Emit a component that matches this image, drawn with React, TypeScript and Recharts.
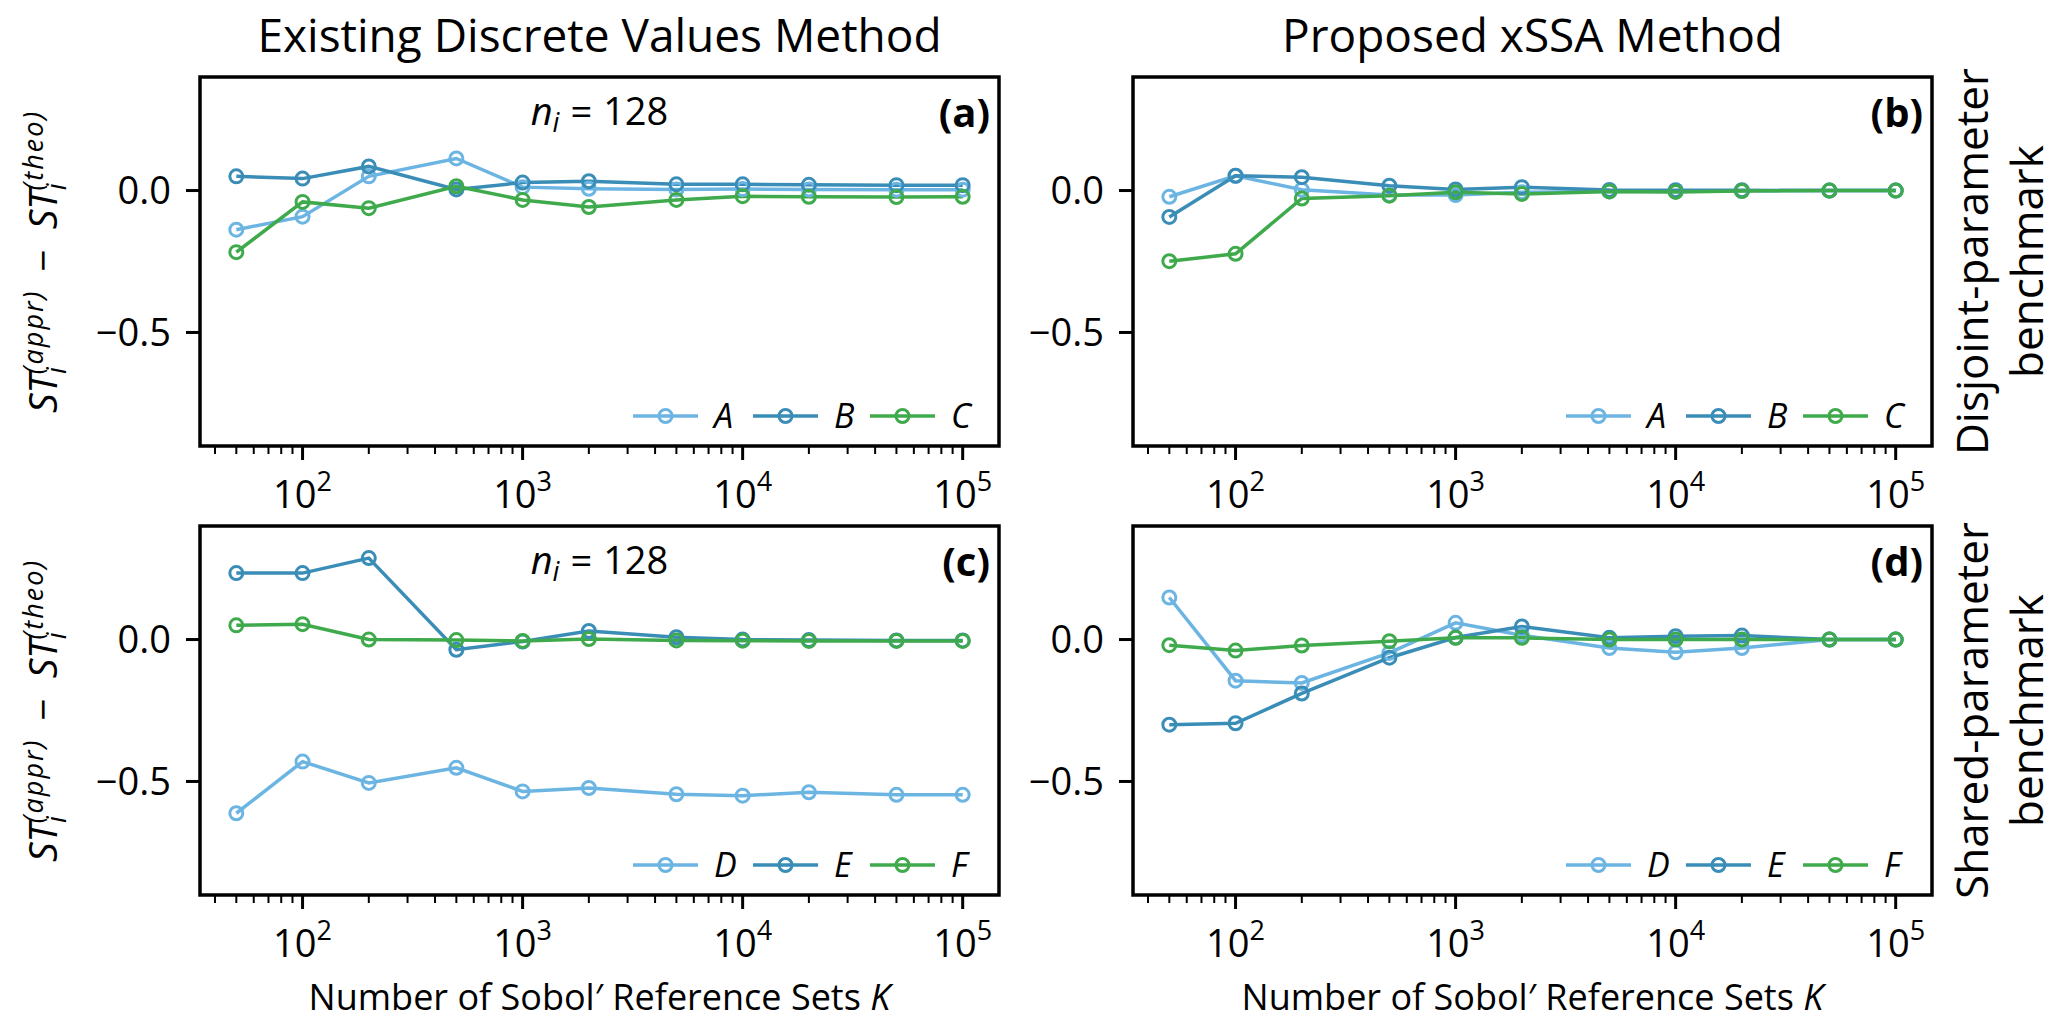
import React from 'react';
import { LineChart, Line, XAxis, YAxis, ReferenceArea, Legend } from 'recharts';

// number of Sobol' reference sets
const K = [50, 100, 200, 500, 1000, 2000, 5000, 10000, 20000, 50000, 100000];

// (a) existing discrete values method, disjoint-parameter benchmark
const DV_A = [-0.138, -0.092, 0.05, 0.113, 0.012, 0.006, 0.004, 0.005, 0.004, 0.003, 0.003];
const DV_B = [0.05, 0.042, 0.085, 0.004, 0.028, 0.033, 0.022, 0.022, 0.02, 0.019, 0.019];
const DV_C = [-0.217, -0.04, -0.062, 0.015, -0.033, -0.058, -0.033, -0.02, -0.022, -0.023, -0.022];

// (b) proposed xSSA method, disjoint-parameter benchmark
const XS_A = [-0.022, 0.052, 0.003, -0.016, -0.016, -0.006, -0.003, -0.003, -0.001, 0, 0];
const XS_B = [-0.093, 0.052, 0.047, 0.017, 0.004, 0.012, 0.002, 0.001, 0.001, 0, 0];
const XS_C = [-0.249, -0.223, -0.028, -0.018, -0.006, -0.012, -0.003, -0.005, -0.002, 0, 0];

// (c) existing discrete values method, shared-parameter benchmark
const DV_D = [-0.612, -0.43, -0.505, -0.452, -0.535, -0.523, -0.545, -0.55, -0.538, -0.547, -0.547];
const DV_E = [0.234, 0.234, 0.287, -0.036, -0.007, 0.03, 0.008, 0.0, -0.002, -0.003, -0.003];
const DV_F = [0.05, 0.054, 0.0, -0.002, -0.005, 0.002, -0.003, -0.004, -0.005, -0.005, -0.005];

// (d) proposed xSSA method, shared-parameter benchmark
const XS_D = [0.148, -0.145, -0.153, -0.047, 0.059, 0.015, -0.03, -0.045, -0.03, 0, 0];
const XS_E = [-0.3, -0.295, -0.19, -0.064, 0.007, 0.046, 0.006, 0.012, 0.014, 0, 0];
const XS_F = [-0.02, -0.039, -0.021, -0.006, 0.006, 0.006, 0, 0, 0, 0, 0];

const MAJOR_TICKS = [100, 1000, 10000, 100000];
const MINOR_TICKS = [
  40, 50, 60, 70, 80, 90,
  200, 300, 400, 500, 600, 700, 800, 900,
  2000, 3000, 4000, 5000, 6000, 7000, 8000, 9000,
  20000, 30000, 40000, 50000, 60000, 70000, 80000, 90000,
];
const Y_TICKS = [-0.5, 0];
const Y_DOMAIN = [-0.9, 0.4];

const COLORS = ['#6cb5e3', '#3a8db7', '#3faa4c'];
const FONT = '"Open Sans", "Noto Sans", sans-serif';

// log axis with 5% padding like matplotlib
const lo = Math.log10(K[0]);
const hi = Math.log10(K[K.length - 1]);
const pad = 0.05 * (hi - lo);
const X_DOMAIN = [Math.pow(10, lo - pad), Math.pow(10, hi + pad)];
const X_TICKS = [...MAJOR_TICKS, ...MINOR_TICKS].sort((a, b) => a - b);

const PLOT_W = 799;
const PLOT_H = 369;
const Y_AXIS_W = 110;
const X_AXIS_H = 75;
const M = { top: 10, right: 10, bottom: 5, left: 0 };

const COL_X = [200, 1133];
const ROW_Y = [77, 526];

function XTick(props: any) {
  const { x, y, payload } = props;
  const v = payload.value;
  const major = MAJOR_TICKS.includes(v);
  return (
    <g>
      <line x1={x} x2={x} y1={y} y2={y + (major ? 14 : 8)} stroke="#000" strokeWidth={major ? 3 : 2} />
      {major && (
        <text x={x} y={y + 62} textAnchor="middle" fontFamily={FONT} fontSize={38} fill="#000">
          10<tspan dy={-17} fontSize={27}>{Math.round(Math.log10(v))}</tspan>
        </text>
      )}
    </g>
  );
}

function YTick(props: any) {
  const { x, y, payload } = props;
  const label = payload.value === 0 ? '0.0' : '\u2212' + Math.abs(payload.value).toFixed(1);
  return (
    <g>
      <line x1={x - 14} x2={x} y1={y} y2={y} stroke="#000" strokeWidth={3} />
      <text x={x - 29} y={y} dy="0.36em" textAnchor="end" fontFamily={FONT} fontSize={38} fill="#000">
        {label}
      </text>
    </g>
  );
}

const LEG_OFF = [0, 120, 237];

function LegendBox(props: any) {
  const payload = props.payload || [];
  return (
    <svg width={440} height={40} style={{ display: 'block', overflow: 'visible' }}>
      {payload.map((p: any, i: number) => {
        const x0 = LEG_OFF[i];
        return (
          <g key={p.value}>
            <line x1={x0} x2={x0 + 65} y1={20} y2={20} stroke={p.color} strokeWidth={3.5} />
            <circle cx={x0 + 32.5} cy={20} r={6.5} fill="none" stroke={p.color} strokeWidth={3} />
            <text x={x0 + 81} y={20} dy="0.36em" fontFamily={FONT} fontStyle="italic" fontSize={34} fill="#000">
              {p.value}
            </text>
          </g>
        );
      })}
    </svg>
  );
}

type PanelProps = { col: number; row: number; names: string[]; series: number[][] };

function Panel({ col, row, names, series }: PanelProps) {
  const rows = K.map((k, i) => {
    const r: Record<string, number> = { K: k };
    names.forEach((n, j) => (r[n] = series[j][i]));
    return r;
  });
  const chartLeft = COL_X[col] - Y_AXIS_W - M.left;
  const chartTop = ROW_Y[row] - M.top;
  return (
    <div style={{ position: 'absolute', left: chartLeft, top: chartTop }}>
      <LineChart
        width={M.left + Y_AXIS_W + PLOT_W + M.right}
        height={M.top + PLOT_H + X_AXIS_H + M.bottom}
        data={rows}
        margin={M}
      >
        <XAxis
          dataKey="K"
          type="number"
          scale="log"
          domain={X_DOMAIN}
          allowDataOverflow
          ticks={X_TICKS}
          interval={0}
          tick={(p: any) => <XTick {...p} />}
          tickLine={false}
          axisLine={false}
          tickSize={0}
          tickMargin={0}
          height={X_AXIS_H}
        />
        <YAxis
          type="number"
          domain={Y_DOMAIN}
          allowDataOverflow
          ticks={Y_TICKS}
          interval={0}
          tick={(p: any) => <YTick {...p} />}
          tickLine={false}
          axisLine={false}
          tickSize={0}
          tickMargin={0}
          width={Y_AXIS_W}
        />
        <ReferenceArea
          x1={X_DOMAIN[0]}
          x2={X_DOMAIN[1]}
          y1={Y_DOMAIN[0]}
          y2={Y_DOMAIN[1]}
          fill="none"
          stroke="#000"
          strokeWidth={3.5}
          ifOverflow="visible"
        />
        {names.map((n, i) => (
          <Line
            key={n}
            dataKey={n}
            name={n}
            stroke={COLORS[i]}
            strokeWidth={3.5}
            dot={{ r: 6.5, fill: 'none', stroke: COLORS[i], strokeWidth: 3 }}
            activeDot={false}
            isAnimationActive={false}
          />
        ))}
        <Legend
          layout="horizontal"
          verticalAlign="middle"
          content={(p: any) => <LegendBox {...p} />}
          wrapperStyle={{ left: 443 + Y_AXIS_W + M.left - 10, top: M.top + 339 - 20, width: 440, height: 40 }}
        />
      </LineChart>
    </div>
  );
}

function YLabel({ cy }: { cy: number }) {
  const x = 57;
  return (
    <text x={x} y={cy} transform={`rotate(-90 ${x} ${cy})`} textAnchor="middle" fontFamily={FONT} fontSize={39} fontStyle="italic" fill="#000">
      ST<tspan fontSize={27} dy={9}>i</tspan>
      <tspan fontSize={27} dx={-7} dy={-23} letterSpacing={2}>(appr)</tspan>
      <tspan fontStyle="normal" dx={18} dy={14}>{'\u2212'}</tspan>
      <tspan dx={20}>ST</tspan>
      <tspan fontSize={27} dy={9}>i</tspan>
      <tspan fontSize={27} dx={-7} dy={-23} letterSpacing={2}>(theo)</tspan>
    </text>
  );
}

function RowLabel({ cy, first }: { cy: number; first: string }) {
  const x = 1988;
  return (
    <text x={x} y={cy} transform={`rotate(-90 ${x} ${cy})`} textAnchor="middle" fontFamily={FONT} fontSize={44} fill="#000">
      <tspan x={x} dy={0}>{first}</tspan>
      <tspan x={x} dy={55}>benchmark</tspan>
    </text>
  );
}

function NLabel({ y }: { y: number }) {
  return (
    <text x={COL_X[0] + PLOT_W / 2} y={y} textAnchor="middle" fontFamily={FONT} fontSize={38} fill="#000">
      <tspan fontStyle="italic">n</tspan>
      <tspan fontStyle="italic" fontSize={27} dy={7}>i</tspan>
      <tspan dy={-7} dx={11}>=</tspan>
      <tspan dx={11}>128</tspan>
    </text>
  );
}

export default function App() {
  const tags = ['(a)', '(b)', '(c)', '(d)'];
  return (
    <div style={{ position: 'absolute', left: 0, top: 0, width: 2067, height: 1029, background: '#fff', fontFamily: FONT }}>
      <Panel col={0} row={0} names={['A', 'B', 'C']} series={[DV_A, DV_B, DV_C]} />
      <Panel col={1} row={0} names={['A', 'B', 'C']} series={[XS_A, XS_B, XS_C]} />
      <Panel col={0} row={1} names={['D', 'E', 'F']} series={[DV_D, DV_E, DV_F]} />
      <Panel col={1} row={1} names={['D', 'E', 'F']} series={[XS_D, XS_E, XS_F]} />
      <svg width={2067} height={1029} style={{ position: 'absolute', left: 0, top: 0, pointerEvents: 'none' }}>
        <text x={COL_X[0] + PLOT_W / 2} y={52} textAnchor="middle" fontFamily={FONT} fontSize={46} fill="#000">
          Existing Discrete Values Method
        </text>
        <text x={COL_X[1] + PLOT_W / 2} y={52} textAnchor="middle" fontFamily={FONT} fontSize={46} fill="#000">
          Proposed xSSA Method
        </text>
        {tags.map((t, i) => (
          <text
            key={t}
            x={COL_X[i % 2] + PLOT_W - 9}
            y={ROW_Y[Math.floor(i / 2)] + 50}
            textAnchor="end"
            fontFamily={FONT}
            fontWeight="bold"
            fontSize={40}
            fill="#000"
          >
            {t}
          </text>
        ))}
        <NLabel y={125} />
        <NLabel y={574} />
        <YLabel cy={ROW_Y[0] + PLOT_H / 2} />
        <YLabel cy={ROW_Y[1] + PLOT_H / 2} />
        <RowLabel cy={ROW_Y[0] + PLOT_H / 2} first="Disjoint-parameter" />
        <RowLabel cy={ROW_Y[1] + PLOT_H / 2} first="Shared-parameter" />
        {COL_X.map((cx) => (
          <text key={cx} x={cx + PLOT_W / 2} y={1010} textAnchor="middle" fontFamily={FONT} fontSize={36} fill="#000">
            Number of Sobol{'\u2032'} Reference Sets <tspan fontStyle="italic">K</tspan>
          </text>
        ))}
      </svg>
    </div>
  );
}
